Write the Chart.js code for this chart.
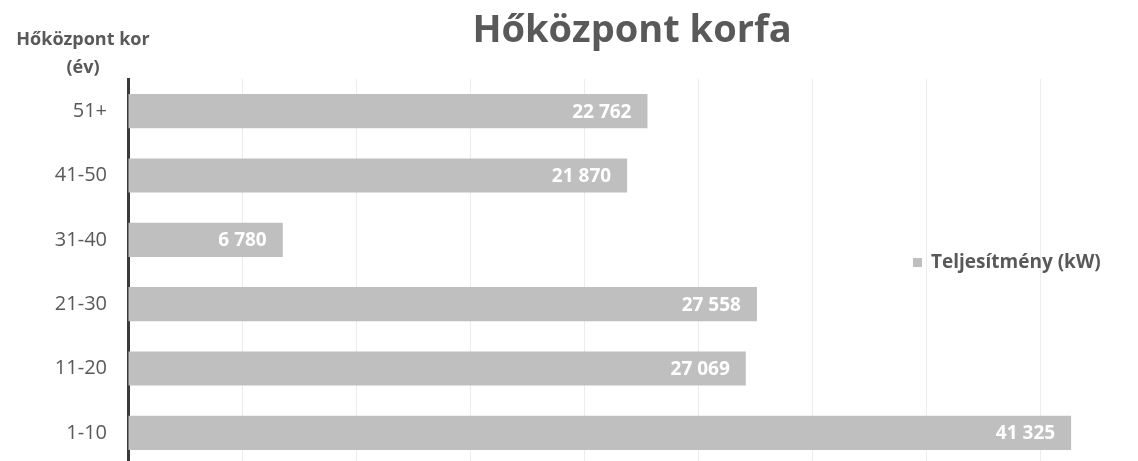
<!DOCTYPE html>
<html>
<head>
<meta charset="utf-8">
<script src="https://cdn.jsdelivr.net/npm/chart.js@4"></script>
<style>
  html, body { margin: 0; padding: 0; background: #fff; overflow: hidden; }
  #wrap { position: relative; width: 1160px; height: 498px; }
</style>
</head>
<body>
<div id="wrap"><canvas id="korfa-chart"></canvas></div>
<script>
// Chart data
const categories = ['51+', '41-50', '31-40', '21-30', '11-20', '1-10'];
const teljesitmeny = [22762, 21870, 6780, 27558, 27069, 41325];
const seriesLabel = 'Teljesítmény (kW)';
const chartTitle = 'Hőközpont korfa';
const axisTitleLines = ['Hőközpont kor', '(év)'];

const FONT = "'Open Sans', sans-serif";
const TEXT_GRAY = '#595959';
const BAR_GRAY = '#bfbfbf';

// "22762" -> "22 762"
function fmt(v) {
  return String(v).replace(/\B(?=(\d{3})+(?!\d))/g, ' ');
}

// Title, y-axis caption, value labels and legend drawn onto the canvas
const decorations = {
  id: 'decorations',
  afterDatasetsDraw(chart) {
    const ctx = chart.ctx;
    ctx.save();

    // value labels inside bar ends
    ctx.font = 'bold 19px ' + FONT;
    ctx.fillStyle = '#ffffff';
    ctx.textAlign = 'right';
    ctx.textBaseline = 'middle';
    chart.getDatasetMeta(0).data.forEach((bar, i) => {
      ctx.fillText(fmt(chart.data.datasets[0].data[i]), bar.x - 16, bar.y + 1);
    });

    // chart title
    ctx.fillStyle = TEXT_GRAY;
    ctx.textAlign = 'center';
    ctx.font = 'bold 38px ' + FONT;
    ctx.fillText(chartTitle, 632, 31);

    // y-axis caption (top left)
    ctx.font = 'bold 18px ' + FONT;
    ctx.fillText(axisTitleLines[0], 83, 40);
    ctx.fillText(axisTitleLines[1], 83, 68);

    // legend
    const ds = chart.data.datasets[0];
    ctx.fillStyle = ds.backgroundColor;
    ctx.fillRect(913, 258, 9, 9);
    ctx.fillStyle = TEXT_GRAY;
    ctx.textAlign = 'left';
    ctx.font = 'bold 19px ' + FONT;
    ctx.fillText(ds.label, 931, 263);

    ctx.restore();
  }
};

const ctx = document.getElementById('korfa-chart');
new Chart(ctx, {
  type: 'bar',
  data: {
    labels: categories,
    datasets: [{
      label: seriesLabel,
      data: teljesitmeny,
      backgroundColor: BAR_GRAY,
      borderWidth: 0,
      categoryPercentage: 1,
      barPercentage: 0.53
    }]
  },
  options: {
    indexAxis: 'y',
    responsive: true,
    maintainAspectRatio: false,
    animation: false,
    layout: { padding: { top: 79, bottom: 14, left: 0, right: 5 } },
    plugins: {
      legend: { display: false },
      title: { display: false },
      tooltip: { enabled: false }
    },
    scales: {
      x: {
        min: 0,
        max: 45000,
        ticks: { display: false, stepSize: 5000 },
        grid: { color: '#ececec', lineWidth: 1, drawTicks: false },
        border: { display: false }
      },
      y: {
        afterFit(scale) { scale.width = 128; },
        ticks: {
          color: TEXT_GRAY,
          padding: 21,
          font: { family: FONT, size: 20 }
        },
        grid: { display: false, drawTicks: false },
        border: { color: '#3a3a3a', width: 3 }
      }
    }
  },
  plugins: [decorations]
});
</script>
</body>
</html>
